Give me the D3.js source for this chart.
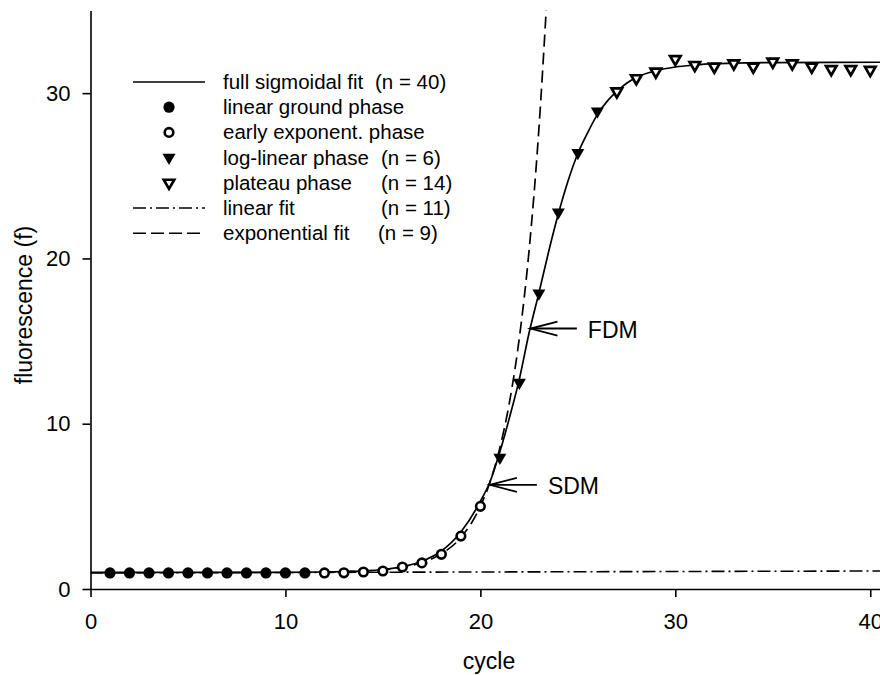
<!DOCTYPE html>
<html>
<head>
<meta charset="utf-8">
<script src="https://cdn.jsdelivr.net/npm/d3@7"></script>
<style>
  html, body { margin: 0; padding: 0; background: #fff; }
  svg { display: block; font-family: "Liberation Sans", Arial, sans-serif; }
</style>
</head>
<body>
<svg id="chart" width="880" height="675"></svg>
<script>
// ---- data ----
const groundCycles = [1, 2, 3, 4, 5, 6, 7, 8, 9, 10, 11];
const groundF      = [0.97, 0.97, 0.97, 0.97, 0.97, 0.97, 0.97, 0.97, 0.97, 0.97, 0.97];
const earlyCycles  = [12, 13, 14, 15, 16, 17, 18, 19, 20];
const earlyF       = [0.97, 0.98, 1.03, 1.09, 1.33, 1.58, 2.1, 3.2, 5.0];
const logCycles    = [21, 22, 23, 24, 25, 26];
const logF         = [7.95, 12.5, 17.9, 22.8, 26.4, 28.9];
const plateauCycles = [27, 28, 29, 30, 31, 32, 33, 34, 35, 36, 37, 38, 39, 40];
const plateauF      = [30.1, 30.9, 31.3, 32.06, 31.7, 31.6, 31.8, 31.6, 31.9, 31.8, 31.6, 31.45, 31.45, 31.4];

// fitted curves
const sigX = [0, 5, 10, 12, 13, 14, 15, 16, 17, 18, 19, 20, 20.5, 21, 21.5, 22, 22.5, 23, 23.5, 24, 24.5, 25, 25.5, 26, 26.5, 27, 27.5, 28, 29, 30, 31, 32, 33, 35, 40.5];
const sigY = [1.0, 1.0, 1.01, 1.03, 1.06, 1.1, 1.18, 1.35, 1.68, 2.3, 3.45, 5.3, 6.5, 8.3, 10.4, 12.7, 15.5, 17.9, 20.4, 22.7, 24.7, 26.35, 27.6, 28.7, 29.5, 30.1, 30.6, 30.95, 31.35, 31.58, 31.7, 31.78, 31.82, 31.85, 31.87];
const expX = [12, 13, 14, 15, 16, 17, 18, 19, 20, 20.5, 21, 21.5, 22, 22.5, 23, 23.4];
const expY = [1.03, 1.05, 1.09, 1.17, 1.32, 1.6, 2.13, 3.12, 5.0, 6.49, 8.54, 11.35, 15.2, 20.5, 27.8, 35.5];
const linX = [0, 40.5];
const linY = [0.97, 1.09];

const xTicks = [0, 10, 20, 30, 40];
const yTicks = [0, 10, 20, 30];

const legendLabels = ["full sigmoidal fit", "linear ground phase", "early exponent. phase", "log-linear phase", "plateau phase", "linear fit", "exponential fit"];
const legendCounts = ["(n = 40)", "", "", "(n = 6)", "(n = 14)", "(n = 11)", "(n = 9)"];

// annotations: [label, tipCycle, tipF, tailCycle]
const annotations = [["FDM", 22.57, 15.76, 24.95], ["SDM", 20.49, 6.3, 22.9]];

// ---- layout ----
const svg = d3.select("#chart");
const x = d3.scaleLinear().domain([0, 40.5]).range([90.5, 880]);
const y = d3.scaleLinear().domain([0, 35]).range([589, 10.5]);

svg.append("defs").append("clipPath").attr("id", "plot")
  .append("rect").attr("x", 90.5).attr("y", 10.5).attr("width", 790).attr("height", 579);

const plot = svg.append("g").attr("clip-path", "url(#plot)");
const line = d3.line().x(d => x(d[0])).y(d => y(d[1])).curve(d3.curveMonotoneX);

const zip = (a, b) => a.map((v, i) => [v, b[i]]);

// linear fit (dash-dot)
plot.append("path").attr("d", line(zip(linX, linY)))
  .attr("fill", "none").attr("stroke", "#000").attr("stroke-width", 1.6)
  .attr("stroke-dasharray", "13,4,2,4");
// exponential fit (dashed)
plot.append("path").attr("d", line(zip(expX, expY)))
  .attr("fill", "none").attr("stroke", "#000").attr("stroke-width", 1.7)
  .attr("stroke-dasharray", "12,6");
// sigmoid fit
plot.append("path").attr("d", line(zip(sigX, sigY)))
  .attr("fill", "none").attr("stroke", "#000").attr("stroke-width", 1.7);

// symbols
function triDown(w) {
  const h = w * 0.866;
  return `M${-w/2},${-h/3}L${w/2},${-h/3}L0,${2*h/3}Z`;
}
function drawSym(g, kind) {
  if (kind === "filledCircle") {
    g.append("circle").attr("r", 5.6).attr("fill", "#000");
  } else if (kind === "openCircle") {
    g.append("circle").attr("r", 4.3).attr("fill", "#fff").attr("stroke", "#000").attr("stroke-width", 2.6);
  } else if (kind === "filledTri") {
    g.append("path").attr("d", triDown(13)).attr("fill", "#000");
  } else if (kind === "openTri") {
    g.append("path").attr("d", triDown(10.5)).attr("fill", "#fff").attr("stroke", "#000").attr("stroke-width", 2.7).attr("stroke-linejoin", "miter");
  }
}
const series = [
  [groundCycles, groundF, "filledCircle"],
  [earlyCycles, earlyF, "openCircle"],
  [logCycles, logF, "filledTri"],
  [plateauCycles, plateauF, "openTri"]
];
series.forEach(([xs, ys, kind]) => {
  zip(xs, ys).forEach(d => {
    const g = svg.append("g").attr("transform", `translate(${x(d[0])},${y(d[1])})`);
    drawSym(g, kind);
  });
});

// axes
const xAxis = svg.append("g").attr("transform", "translate(0,589)")
  .call(d3.axisBottom(x).tickValues(xTicks).tickSize(8).tickSizeOuter(0).tickPadding(16));
const yAxis = svg.append("g").attr("transform", "translate(90.5,0)")
  .call(d3.axisLeft(y).tickValues(yTicks).tickSize(8).tickSizeOuter(0).tickPadding(12));
[xAxis, yAxis].forEach(a => {
  a.selectAll("path.domain").attr("stroke", "#000").attr("stroke-width", 1.6);
  a.selectAll(".tick line").attr("stroke", "#000").attr("stroke-width", 1.6);
  a.selectAll(".tick text").attr("fill", "#000").style("font-size", "22px")
    .style("font-family", "'Liberation Sans', Arial, sans-serif");
});

// axis titles
svg.append("text").attr("x", 489).attr("y", 669).attr("text-anchor", "middle")
  .style("font-size", "23px").text("cycle");
svg.append("text").attr("transform", "rotate(-90)").attr("x", -305).attr("y", 32)
  .attr("text-anchor", "middle").style("font-size", "23px").text("fluorescence (f)");

// legend
const legY0 = 82, legDy = 25.2;
const legKinds = ["solid", "filledCircle", "openCircle", "filledTri", "openTri", "dashdot", "dash"];
const countX = [375, 0, 0, 381, 381, 381, 378];
legKinds.forEach((k, i) => {
  const cy = legY0 + i * legDy;
  if (k === "solid" || k === "dashdot" || k === "dash") {
    const l = svg.append("line").attr("x1", 133).attr("x2", 205).attr("y1", cy).attr("y2", cy)
      .attr("stroke", "#000").attr("stroke-width", 1.6);
    if (k === "dashdot") l.attr("stroke-dasharray", "13,4,2,4");
    if (k === "dash") l.attr("stroke-dasharray", "13,5");
  } else {
    const g = svg.append("g").attr("transform", `translate(169,${cy})`);
    drawSym(g, k);
  }
  svg.append("text").attr("x", 223).attr("y", cy + 7).style("font-size", "20.5px").text(legendLabels[i]);
  if (legendCounts[i]) {
    svg.append("text").attr("x", countX[i]).attr("y", cy + 7).style("font-size", "20.5px").text(legendCounts[i]);
  }
});

// annotations (arrows)
annotations.forEach(([label, tc, tf, tailc]) => {
  const tx = x(tc), ty = y(tf), ex = x(tailc);
  const g = svg.append("g").attr("stroke", "#000").attr("stroke-width", 1.8).attr("fill", "none");
  g.append("line").attr("x1", tx).attr("y1", ty).attr("x2", ex).attr("y2", ty);
  g.append("path").attr("d", `M${tx + 27},${ty - 7}L${tx},${ty}L${tx + 27},${ty + 7}`);
  svg.append("text").attr("x", ex + 11).attr("y", ty + 9).style("font-size", "23px").text(label);
});
</script>
</body>
</html>
